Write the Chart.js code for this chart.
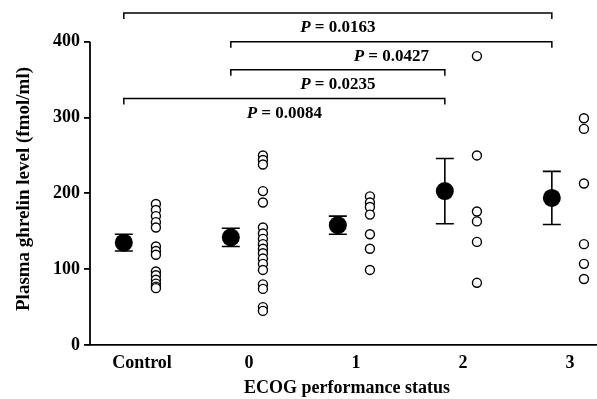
<!DOCTYPE html>
<html>
<head>
<meta charset="utf-8">
<script src="https://cdn.jsdelivr.net/npm/chart.js@4.4.0/dist/chart.umd.min.js"></script>
<style>
    html, body { margin: 0; padding: 0; background: #fff; }
    #wrap { width: 597px; height: 399px; }
</style>
</head>
<body>
<div id="wrap"><canvas id="chart" width="597" height="399"></canvas></div>
<script>
// Categories on the x axis
const categories = ['Control', '0', '1', '2', '3'];

// Individual values (fmol/ml) per group
const controlValues = [186, 178, 170, 162, 155, 130, 124, 119, 97, 92, 86, 81, 77, 75];
const ecog0Values = [250, 244, 238, 203, 188, 155, 147, 140, 133, 127, 121, 114, 107, 99, 80, 74, 50, 45];
const ecog1Values = [196, 188, 182, 172, 146, 127, 99];
const ecog2Values = [381, 250, 176, 163, 136, 82];
const ecog3Values = [299, 285, 213, 133, 107, 87];
const groupValues = [controlValues, ecog0Values, ecog1Values, ecog2Values, ecog3Values];

// Mean and error per group
const meanValues = [135, 142, 158, 203, 194];
const errorValues = [11, 12, 12, 43, 35];

const yTicks = [0, 100, 200, 300, 400];

// Comparison brackets: from/to category, height (fmol/ml), P value
const compFrom = ['Control', '0', '0', 'Control'];
const compTo = ['3', '3', '2', '2'];
const compLevel = [438, 400, 363, 325];
const compP = ['0.0163', '0.0427', '0.0235', '0.0084'];

const MEAN_SHIFT = -0.17;
const DOT_SHIFT = 0.13;
const FONT = '"Liberation Serif", "Times New Roman", serif';

const dotData = [];
groupValues.forEach((vals, i) => {
    vals.forEach(v => dotData.push({ x: i + DOT_SHIFT, y: v }));
});
const meanData = meanValues.map((v, i) => ({ x: i + MEAN_SHIFT, y: v }));

const annotations = {
    id: 'annotations',
    beforeDatasetsDraw(chart) {
        const ctx = chart.ctx;
        const xs = chart.scales.x, ys = chart.scales.y;
        ctx.save();
        ctx.strokeStyle = '#000';
        ctx.lineWidth = 1.6;
        meanValues.forEach((m, i) => {
            const x = xs.getPixelForValue(i + MEAN_SHIFT);
            const top = ys.getPixelForValue(m + errorValues[i]);
            const bot = ys.getPixelForValue(m - errorValues[i]);
            ctx.beginPath();
            ctx.moveTo(x, top); ctx.lineTo(x, bot);
            ctx.moveTo(x - 9, top); ctx.lineTo(x + 9, top);
            ctx.moveTo(x - 9, bot); ctx.lineTo(x + 9, bot);
            ctx.stroke();
        });
        ctx.restore();
    },
    afterDraw(chart) {
        const ctx = chart.ctx;
        const xs = chart.scales.x, ys = chart.scales.y;
        const area = chart.chartArea;
        ctx.save();
        ctx.strokeStyle = '#000';
        ctx.fillStyle = '#000';

        // y axis line, only up to 400
        ctx.lineWidth = 1.8;
        ctx.beginPath();
        ctx.moveTo(area.left, ys.getPixelForValue(0));
        ctx.lineTo(area.left, ys.getPixelForValue(400));
        ctx.stroke();

        // comparison brackets
        ctx.lineWidth = 1.5;
        compLevel.forEach((lvl, k) => {
            const x1 = xs.getPixelForValue(categories.indexOf(compFrom[k]) + MEAN_SHIFT);
            const x2 = xs.getPixelForValue(categories.indexOf(compTo[k]) + MEAN_SHIFT);
            const y = ys.getPixelForValue(lvl);
            ctx.beginPath();
            ctx.moveTo(x1, y + 6); ctx.lineTo(x1, y); ctx.lineTo(x2, y); ctx.lineTo(x2, y + 6);
            ctx.stroke();

            const pPart = 'P';
            const rest = ' = ' + compP[k];
            ctx.font = 'italic bold 17px ' + FONT;
            const wP = ctx.measureText(pPart).width;
            ctx.font = 'bold 17px ' + FONT;
            const wR = ctx.measureText(rest).width;
            const cx = (x1 + x2) / 2;
            const start = cx - (wP + wR) / 2;
            ctx.textBaseline = 'middle';
            ctx.textAlign = 'left';
            ctx.font = 'italic bold 17px ' + FONT;
            ctx.fillText(pPart, start, y + 15);
            ctx.font = 'bold 17px ' + FONT;
            ctx.fillText(rest, start + wP, y + 15);
        });

        // axis titles
        ctx.font = 'bold 18px ' + FONT;
        ctx.textAlign = 'center';
        ctx.textBaseline = 'middle';
        ctx.fillText('ECOG performance status', 347, 388);
        ctx.translate(24, 189);
        ctx.rotate(-Math.PI / 2);
        ctx.font = 'bold 19px ' + FONT;
        ctx.fillText('Plasma ghrelin level (fmol/ml)', 0, 0);
        ctx.restore();
    }
};

new Chart(document.getElementById('chart'), {
    type: 'scatter',
    data: {
        datasets: [
            {
                label: 'Individual',
                data: dotData,
                pointRadius: 4.5,
                pointBorderWidth: 1.4,
                pointBorderColor: '#000',
                pointBackgroundColor: '#fff'
            },
            {
                label: 'Mean',
                data: meanData,
                pointRadius: 9,
                pointBorderWidth: 0,
                pointBackgroundColor: '#000',
                pointBorderColor: '#000'
            }
        ]
    },
    options: {
        responsive: false,
        animation: false,
        layout: { padding: 0, autoPadding: false },
        plugins: {
            legend: { display: false },
            tooltip: { enabled: false }
        },
        scales: {
            x: {
                type: 'linear',
                min: -0.486,
                max: 4.252,
                afterFit: s => { s.height = 54; s.paddingLeft = 0; s.paddingRight = 0; },
                afterBuildTicks: s => { s.ticks = categories.map((c, i) => ({ value: i })); },
                grid: { display: false },
                border: { display: true, color: '#000', width: 1.8 },
                ticks: {
                    color: '#000',
                    padding: 0,
                    font: { family: FONT, size: 18, weight: 'bold' },
                    callback: v => categories[v]
                }
            },
            y: {
                min: 0,
                max: 455,
                afterFit: s => { s.width = 90; s.paddingTop = 0; s.paddingBottom = 0; },
                afterBuildTicks: s => { s.ticks = yTicks.map(v => ({ value: v })); },
                grid: { drawOnChartArea: false, tickLength: 6, color: '#000', lineWidth: 1.8 },
                border: { display: false },
                ticks: {
                    color: '#000',
                    padding: 4,
                    font: { family: FONT, size: 18, weight: 'bold' }
                }
            }
        }
    },
    plugins: [annotations]
});
</script>
</body>
</html>
